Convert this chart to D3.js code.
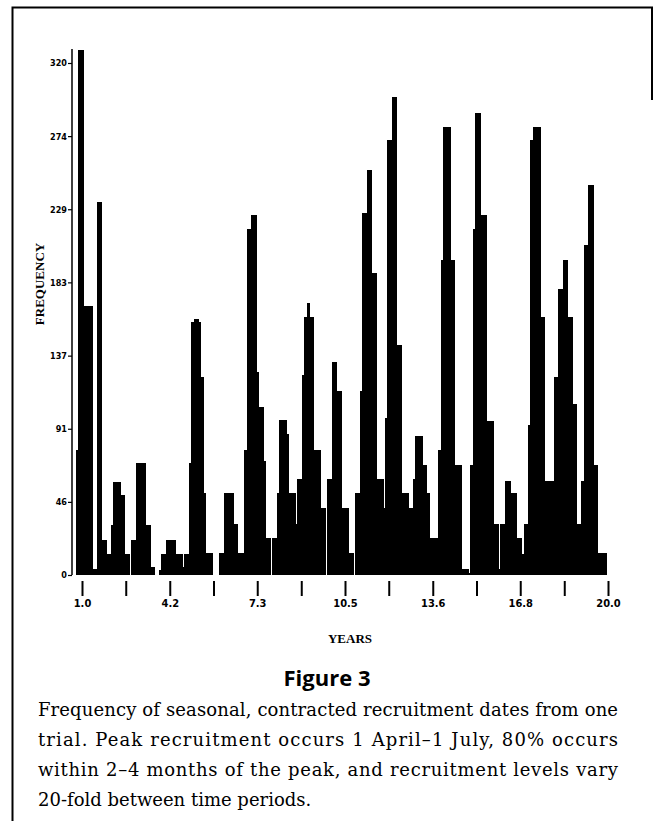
<!DOCTYPE html>
<html>
<head>
<meta charset="utf-8">
<script src="https://cdnjs.cloudflare.com/ajax/libs/d3/7.8.5/d3.min.js"></script>
<style>
  body{margin:0;background:#fff;}
  svg{display:block;}
</style>
</head>
<body>
<svg id="chart"></svg>
<script>
// monthly bins, first bin starts a little before year 1.0
var binStart = 0.783;
var binYears = 1/12;
var frequency = [
  78,328,328,168,168,168,168,4,4,233,
  233,22,22,13,13,31,58,58,58,50,
  50,13,13,0,22,22,70,70,70,70,
  31,31,5,5,0,0,3,13,13,22,
  22,22,22,13,13,13,5,13,13,70,
  158,160,160,158,124,51,14,14,14,0,
  0,0,14,14,51,51,51,51,32,32,
  14,14,14,78,216,216,225,225,127,105,
  105,71,23,23,0,23,23,51,97,97,
  97,88,51,51,51,32,60,60,125,161,
  170,161,161,78,78,78,42,42,0,60,
  60,133,133,115,115,42,42,42,14,14,
  0,51,51,115,226,226,253,253,189,189,
  60,60,60,42,98,272,272,299,299,144,
  144,51,51,51,42,42,60,87,87,87,
  69,69,51,23,23,23,23,78,197,280,
  280,280,197,197,69,69,69,4,4,4,
  1,69,216,289,289,225,225,225,96,96,
  96,32,32,4,32,32,59,59,51,51,
  51,23,23,13,32,32,94,272,280,280,
  280,161,161,59,59,59,59,124,124,179,
  179,197,197,161,161,107,107,32,32,59,
  206,206,244,244,69,69,14,14,14,14
];
var xTicks = [1.0,2.58,4.17,5.75,7.33,8.92,10.5,12.08,13.67,15.25,16.83,18.42,20.0];
var xTickLabels = ["1.0","","4.2","","7.3","","10.5","","13.6","","16.8","","20.0"];
var yTicks = [0,45.7,91.4,137.1,182.9,228.6,274.3,320];
var yTickLabels = ["0","46","91","137","183","229","274","320"];
var captionLines = [
  "Frequency of seasonal, contracted recruitment dates from one",
  "trial. Peak recruitment occurs 1 April\u20131 July, 80% occurs",
  "within 2\u20134 months of the peak, and recruitment levels vary",
  "20-fold between time periods."
];

var width = 655, height = 821;
var svg = d3.select("#chart").attr("width",width).attr("height",height);

// page frame (scanned box)
svg.append("path")
   .attr("d","M12.5,821 L12.5,7.5 L652,7.5 L652,100")
   .attr("fill","none").attr("stroke","#000").attr("stroke-width",2);

var xScale = d3.scaleLinear().domain([1,20]).range([82,608]);
var yScale = d3.scaleLinear().domain([0,320]).range([575,63]);

// histogram bars
svg.append("g")
   .attr("shape-rendering","crispEdges")
   .selectAll("rect")
   .data(frequency)
   .enter()
   .append("rect")
   .attr("x",function(d,i){return xScale(binStart+i*binYears);})
   .attr("width",function(d,i){return xScale(binStart+(i+1)*binYears)-xScale(binStart+i*binYears)+0.8;})
   .attr("y",function(d){return yScale(d);})
   .attr("height",function(d){return yScale(0)-yScale(d);})
   .attr("fill","#000");

// x axis: ticks hang below the bars, no domain line
var xAxis = d3.axisBottom(xScale)
              .tickValues(xTicks)
              .tickSize(15)
              .tickPadding(3)
              .tickFormat(function(d,i){return xTickLabels[i];});
var gx = svg.append("g")
   .attr("transform","translate(0,581)")
   .call(xAxis);
gx.select(".domain").remove();
gx.selectAll("line").attr("stroke","#000").attr("stroke-width",2);
gx.selectAll("text")
  .attr("fill","#000")
  .style("font-family","'Liberation Sans Narrow','DejaVu Sans Condensed',sans-serif")
  .style("font-weight","bold")
  .style("font-size","11px");

// y axis
var yAxis = d3.axisLeft(yScale)
              .tickValues(yTicks)
              .tickSizeInner(4)
              .tickSizeOuter(0)
              .tickPadding(1)
              .tickFormat(function(d,i){return yTickLabels[i];});
var gy = svg.append("g")
   .attr("transform","translate(72,0)")
   .call(yAxis);
gy.select(".domain").attr("d","M0,"+yScale(0)+"V"+(yScale(320)-14)).attr("stroke-width",1.5);
gy.selectAll("line").attr("stroke","#000").attr("stroke-width",1.2);
gy.selectAll("text")
  .attr("fill","#000")
  .style("font-family","'Liberation Sans Narrow','DejaVu Sans Condensed',sans-serif")
  .style("font-weight","bold")
  .style("font-size","9px");

// axis titles
svg.append("text")
   .attr("transform","translate(44,284) rotate(-90)")
   .attr("text-anchor","middle")
   .style("font-family","'Liberation Serif','DejaVu Serif',serif")
   .style("font-weight","bold")
   .style("font-size","13px")
   .text("FREQUENCY");

svg.append("text")
   .attr("x",350).attr("y",643)
   .attr("text-anchor","middle")
   .style("font-family","'Liberation Serif','DejaVu Serif',serif")
   .style("font-weight","bold")
   .style("font-size","13px")
   .text("YEARS");

// figure label and caption
svg.append("text")
   .attr("x",327).attr("y",686)
   .attr("text-anchor","middle")
   .style("font-family","'Open Sans','DejaVu Sans',sans-serif")
   .style("font-weight","bold")
   .style("font-size","22px")
   .text("Figure 3");

svg.append("g")
   .selectAll("text")
   .data(captionLines)
   .enter()
   .append("text")
   .attr("x",38)
   .attr("y",function(d,i){return 716+i*30;})
   .attr("textLength",function(d,i){return i<3 ? 580 : null;})
   .attr("lengthAdjust","spacing")
   .style("font-family","'DejaVu Serif','Liberation Serif',serif")
   .style("font-size","18px")
   .text(function(d){return d;});
</script>
</body>
</html>
